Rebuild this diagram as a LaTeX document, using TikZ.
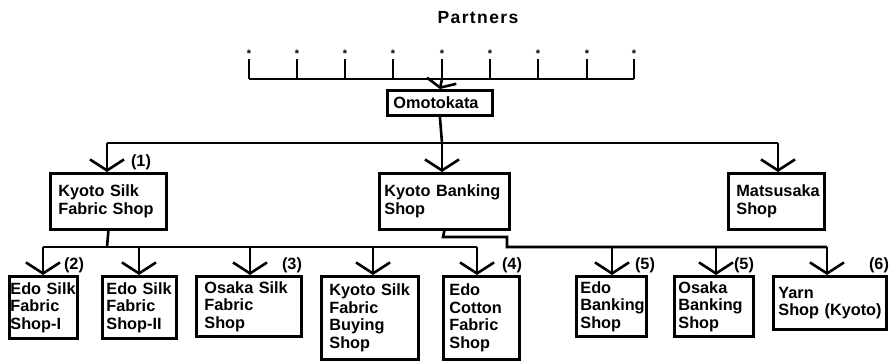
\documentclass[tikz,border=0pt]{standalone}
\usepackage{fontspec}
\setmainfont{Liberation Sans}
\usetikzlibrary{arrows.meta}
\hyphenpenalty=10000
\exhyphenpenalty=10000
\tikzset{
  box/.style={draw, line width=2.8pt, anchor=north west, align=left, inner ysep=0pt,
              font=\bfseries\fontsize{16.3}{17.5}\selectfont},
  conn/.style={line width=2.6pt},
  arr/.style={line width=2.6pt, -{Straight Barb[length=11pt,width=34pt,line width=2.6pt]}},
  sarr/.style={line width=2.6pt, -{Straight Barb[length=7pt,width=30pt,line width=2.6pt]}},
  lbl/.style={font=\bfseries\fontsize{16.3}{17.5}\selectfont, inner sep=0pt},
  star/.style={font=\bfseries\fontsize{11}{11}\selectfont, inner sep=0pt},
  thin/.style={line width=2pt}
}
\begin{document}
\begin{tikzpicture}[x=1pt,y=-1pt]
\useasboundingbox (0,0) rectangle (895,360);

% title
\node[lbl, font=\bfseries\fontsize{17.5}{18}\selectfont\addfontfeatures{LetterSpace=8}] (title) at (478,18) {Partners};

% partners bar
\coordinate (pl) at (249,79);
\coordinate (pr) at (634,79);
\draw[thin] (pl) -- (pr);
\foreach \i/\x in {1/249,2/297,3/345,4/393,5/442,6/490,7/538,8/587,9/634}{
  \node[star] (s\i) at (\x,54) {*};
  \coordinate (t\i) at (\x,79);
  \draw[thin] (s\i.south) ++(0,1) -- (t\i);
}

% Omotokata
\node[box, minimum width=105pt, minimum height=25pt, text width=93pt, inner xsep=6pt] (omo) at (386,89) {Omotokata};
\draw[sarr] (t5) -- (omo.north);

% level 1
\coordinate (b1) at (442,143);
\coordinate (b1L) at (107,143);
\coordinate (b1R) at (778,143);
\node[box, minimum width=116pt, minimum height=56pt, text width=100pt, inner xsep=8pt] (ksf) at (49,172) {Kyoto~Silk\\Fabric~Shop};
\node[box, minimum width=130pt, minimum height=56pt, text width=120pt, inner xsep=5pt] (kb) at (378,172) {Kyoto~Banking\\Shop};
\node[box, minimum width=96pt, minimum height=56pt, text width=80pt, inner xsep=8pt] (mat) at (727,172) {Matsusaka\\Shop};

\draw[conn] (omo.south) -- (b1);
\draw[conn] (b1L) -- (b1R);
\draw[arr] (b1L) -- (b1L |- ksf.north);
\draw[arr] (b1) -- (b1 |- kb.north);
\draw[arr] (b1R) -- (b1R |- mat.north);
\node[lbl] (l1) at (141,162) {(1)};

% level 2 boxes
\node[box, minimum width=68pt, minimum height=62pt, text width=66pt, inner xsep=1pt] (es1) at (8,275) {Edo~Silk\\Fabric\\Shop-I};
\node[box, minimum width=74pt, minimum height=62pt, text width=66pt, inner xsep=4pt] (es2) at (101,275) {Edo~Silk\\Fabric\\Shop-II};
\node[box, minimum width=105pt, minimum height=60pt, text width=89pt, inner xsep=8pt] (os) at (195,275) {Osaka~Silk\\Fabric\\Shop};
\node[box, minimum width=97pt, minimum height=83pt, text width=81pt, inner xsep=8pt] (ksb) at (320,275) {Kyoto~Silk\\Fabric\\Buying\\Shop};
\node[box, minimum width=76pt, minimum height=83pt, text width=64pt, inner xsep=6pt] (ec) at (442,275) {Edo\\Cotton\\Fabric\\Shop};
\node[box, minimum width=70pt, minimum height=60pt, text width=62pt, inner xsep=4pt] (eb) at (575,275) {Edo\\Banking\\Shop};
\node[box, minimum width=79pt, minimum height=60pt, text width=71pt, inner xsep=4pt] (ob) at (673,275) {Osaka\\Banking\\Shop};
\node[box, minimum width=113pt, minimum height=53pt, text width=103pt, inner xsep=5pt] (yarn) at (772,275) {Yarn\\Shop~(Kyoto)};

% Kyoto Silk Fabric Shop branch
\coordinate (k0) at (107,247);
\coordinate (k1) at (43,247);
\coordinate (k2) at (139,247);
\coordinate (k3) at (250,247);
\coordinate (k4) at (373,247);
\coordinate (k5) at (477,247);
\draw[conn] (ksf.south) -- (k0);
\draw[conn] (k1) -- (k5);
\draw[arr] (k1) -- (k1 |- es1.north);
\draw[arr] (k2) -- (k2 |- es2.north);
\draw[arr] (k3) -- (k3 |- os.north);
\draw[arr] (k4) -- (k4 |- ksb.north);
\draw[arr] (k5) -- (k5 |- ec.north);

% Kyoto Banking Shop branch
\coordinate (j1) at (443,237);
\coordinate (j2) at (507,237);
\coordinate (j3) at (507,247);
\coordinate (m1) at (612,247);
\coordinate (m2) at (716,247);
\coordinate (m3) at (827,247);
\draw[conn, line join=miter] (kb.south) -- (j1) -- (j2) -- (j3) -- (m3);
\draw[arr] (m1) -- (m1 |- eb.north);
\draw[arr] (m2) -- (m2 |- ob.north);
\draw[arr] (m3) -- (m3 |- yarn.north);

% labels
\node[lbl] (l2) at (74,265) {(2)};
\node[lbl] (l3) at (292,265) {(3)};
\node[lbl] (l4) at (512,265) {(4)};
\node[lbl] (l5a) at (645,265) {(5)};
\node[lbl] (l5b) at (744,265) {(5)};
\node[lbl] (l6) at (879,265) {(6)};
\end{tikzpicture}
\end{document}
